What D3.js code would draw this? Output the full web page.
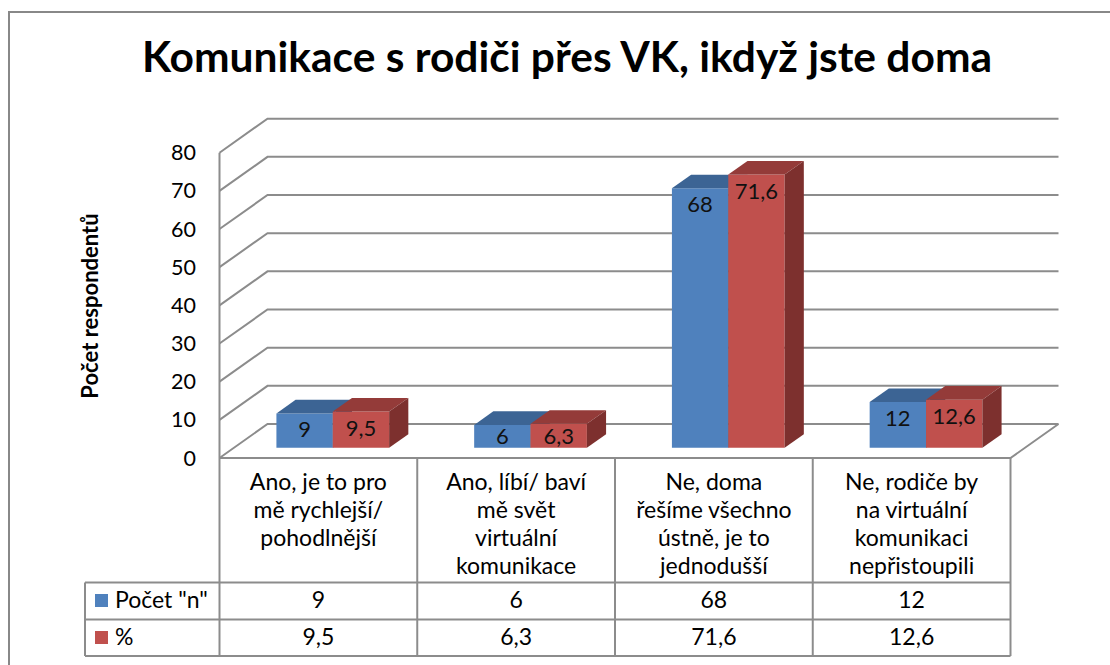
<!DOCTYPE html>
<html><head><meta charset="utf-8">
<script src="https://cdn.jsdelivr.net/npm/d3@7"></script>
<style>body{margin:0;background:#fff} svg{display:block}</style>
</head><body><svg id="c" width="1110" height="665"></svg>
<script>
// ---- data ----
const categories = [
  "Ano, je to pro\nmě rychlejší/\npohodlnější",
  "Ano, líbí/ baví\nmě svět\nvirtuální\nkomunikace",
  "Ne, doma\nřešíme všechno\nústně, je to\njednodušší",
  "Ne, rodiče by\nna virtuální\nkomunikaci\nnepřistoupili"
];
const seriesNames = ['Počet "n"', "%"];
const countValues = [9, 6, 68, 12];
const percentValues = [9.5, 6.3, 71.6, 12.6];
const yTicks = [0, 10, 20, 30, 40, 50, 60, 70, 80];
const chartTitle = "Komunikace s rodiči přes VK, ikdyž jste doma";
const yAxisTitle = "Počet respondentů";

// ---- layout / style ----
const FONT = "Lato, 'Open Sans', sans-serif";
const X0 = 219.5, X1 = 1010.5, YB = 458, YT = 152.7;
const DX = 48, DY = -34;           // full depth vector
const F0 = 0.3, F1 = 0.7;          // bar depth range
const GRID = "#8c8c8c";
const colors = [
  {front: "#4f81bd", top: "#3c6494", side: "#2f5078"},
  {front: "#c0504d", top: "#943b39", side: "#7d302e"}
];
const fmt = d3.formatLocale({decimal: ",", thousands: " ", grouping: [3], currency: ["", ""]}).format("~g");

const series = [countValues, percentValues];
const svg = d3.select("#c");

// outer frame
svg.append("rect").attr("x", 9).attr("y", 12).attr("width", 1120).attr("height", 700)
  .attr("fill", "none").attr("stroke", "#888").attr("stroke-width", 2);

// title
svg.append("text").attr("x", 567).attr("y", 72).attr("text-anchor", "middle")
  .attr("font-family", FONT).attr("font-weight", "bold").attr("font-size", 42.5)
  .attr("fill", "#000").text(chartTitle);

const y = d3.scaleLinear().domain([0, 80]).range([YB, YT]);
const x = d3.scaleBand().domain(d3.range(categories.length)).range([X0, X1])
  .paddingInner(0.43).paddingOuter(0.215);
const xs = d3.scaleBand().domain(d3.range(series.length)).range([0, x.bandwidth()]);
const step = x.step();

// gridlines (left wall + back wall)
const g = svg.append("g").attr("stroke", GRID).attr("stroke-width", 2).attr("fill", "none");
yTicks.forEach(t => {
  const yy = y(t);
  g.append("path").attr("d", `M${X0},${yy}L${X0 + DX},${yy + DY}L${X1 + DX},${yy + DY}`);
});
// floor front edge and right edge
g.append("path").attr("d", `M${X0},${YB}L${X1},${YB}L${X1 + DX},${YB + DY}`);
// front vertical axis
g.append("path").attr("d", `M${X0},${y(80)}L${X0},${YB}`);

// y tick labels
svg.append("g").selectAll("text").data(yTicks).join("text")
  .attr("x", 196).attr("y", d => y(d) + 7.5).attr("text-anchor", "end")
  .attr("font-family", FONT).attr("font-size", 21.5).attr("fill", "#000")
  .text(d => d);

// y axis title
svg.append("text").attr("transform", "translate(98,306) rotate(-90)")
  .attr("text-anchor", "middle").attr("font-family", FONT).attr("font-weight", "bold")
  .attr("font-size", 22).attr("fill", "#000").text(yAxisTitle);

// bars
const bx = DX * (F1 - F0), by = DY * (F1 - F0);
const ox = DX * F0, oy = DY * F0;
const barsG = svg.append("g");
categories.forEach((c, i) => {
  series.forEach((vals, s) => {
    const v = vals[i];
    const xl = x(i) + xs(s) + ox, xr = xl + xs.bandwidth();
    const yb = y(0) + oy, yt = y(v) + oy;
    const col = colors[s];
    barsG.append("path").attr("fill", col.front)
      .attr("d", `M${xl},${yb}L${xl},${yt}L${xr},${yt}L${xr},${yb}Z`);
    barsG.append("path").attr("fill", col.top)
      .attr("d", `M${xl},${yt}L${xl + bx},${yt + by}L${xr + bx},${yt + by}L${xr},${yt}Z`);
    barsG.append("path").attr("fill", col.side)
      .attr("d", `M${xr},${yt}L${xr + bx},${yt + by}L${xr + bx},${yb + by}L${xr},${yb}Z`);
  });
});
// data labels
categories.forEach((c, i) => {
  series.forEach((vals, s) => {
    const v = vals[i];
    const cx = x(i) + xs(s) + ox + xs.bandwidth() / 2;
    const yt = y(v) + oy, yb = y(0) + oy;
    const cy = Math.min((yt + yb) / 2, yt + 16);
    svg.append("text").attr("x", cx).attr("y", cy + 8).attr("text-anchor", "middle")
      .attr("font-family", FONT).attr("font-size", 22).attr("fill", "#111")
      .text(fmt(v));
  });
});

// data table
const TT = 458, R1 = 582.5, R2 = 619.5, R3 = 656, LX = 85;
const tg = svg.append("g").attr("stroke", GRID).attr("stroke-width", 2).attr("fill", "none");
d3.range(categories.length + 1).forEach(k => {
  const xx = X0 + k * step;
  tg.append("path").attr("d", `M${xx},${TT}L${xx},${R3}`);
});
tg.append("path").attr("d", `M${LX},${R1}L${X1},${R1}M${LX},${R2}L${X1},${R2}M${LX},${R3}L${X1},${R3}M${LX},${R1}L${LX},${R3}`);

// category text
categories.forEach((c, i) => {
  const cx = X0 + (i + 0.5) * step;
  const t = svg.append("text").attr("text-anchor", "middle").attr("font-family", FONT)
    .attr("font-size", 23).attr("fill", "#000");
  c.split("\n").forEach((line, j) => {
    t.append("tspan").attr("x", cx).attr("y", 490 + j * 28).text(line);
  });
});
// values rows
const rowBase = [608, 645];
series.forEach((vals, s) => {
  const base = rowBase[s];
  svg.append("rect").attr("x", 95).attr("y", base - 14).attr("width", 13).attr("height", 13)
    .attr("fill", colors[s].front);
  svg.append("text").attr("x", 115).attr("y", base).attr("font-family", FONT)
    .attr("font-size", 23).attr("fill", "#000").text(seriesNames[s]);
  vals.forEach((v, i) => {
    svg.append("text").attr("x", X0 + (i + 0.5) * step).attr("y", base)
      .attr("text-anchor", "middle").attr("font-family", FONT).attr("font-size", 23)
      .attr("fill", "#000").text(fmt(v));
  });
});
</script></body></html>
